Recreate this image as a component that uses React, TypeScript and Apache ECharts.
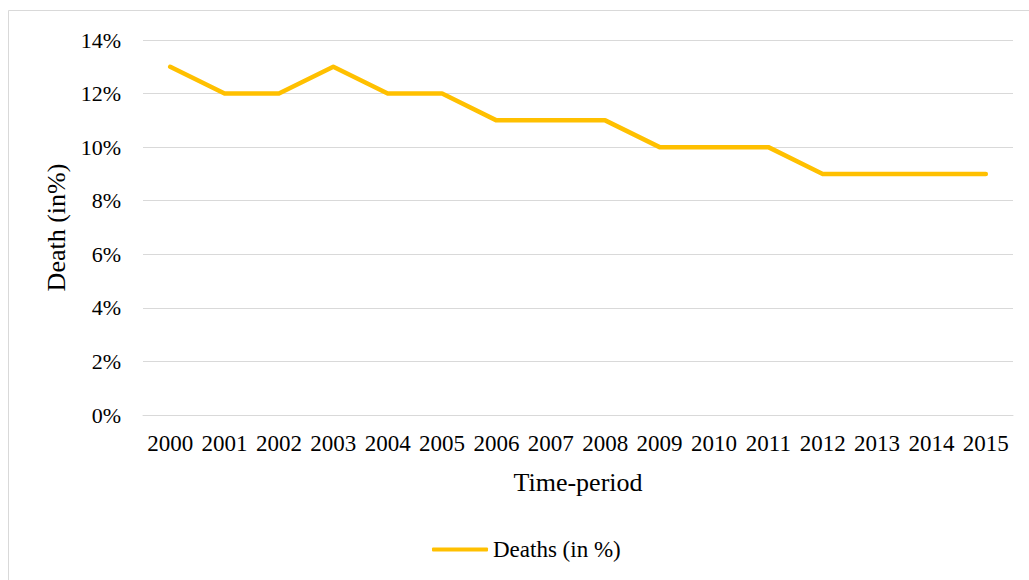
import React, { useEffect, useRef } from "react";
import * as echarts from "echarts";

const years = ["2000","2001","2002","2003","2004","2005","2006","2007","2008","2009","2010","2011","2012","2013","2014","2015"];
const deaths = [13, 12, 12, 13, 12, 12, 11, 11, 11, 10, 10, 10, 9, 9, 9, 9];
const seriesName = "Deaths (in %)";
const FONT = "'Liberation Serif', 'Times New Roman', serif";

export default function App() {
  const ref = useRef<HTMLDivElement>(null);
  useEffect(() => {
    const chart = echarts.init(ref.current!, null, { renderer: "svg" });
    chart.setOption({
      animation: false,
      backgroundColor: "#ffffff",
      graphic: [
        {
          type: "rect",
          shape: { x: 8.5, y: 10.5, width: 1040, height: 600 },
          style: { fill: "none", stroke: "#d9d9d9", lineWidth: 1 },
          silent: true,
        },
      ],
      grid: { left: 143, right: 16, top: 40, bottom: 165 },
      legend: {
        bottom: 14,
        left: 427,
        itemWidth: 56,
        itemHeight: 4,
        itemGap: 10,
        textStyle: { fontFamily: FONT, fontSize: 23, color: "#000" },
        data: [{ name: seriesName, icon: "roundRect" }],
      },
      xAxis: {
        type: "category",
        data: years,
        boundaryGap: true,
        name: "Time-period",
        nameLocation: "middle",
        nameGap: 54,
        nameTextStyle: { fontFamily: FONT, fontSize: 26, color: "#000" },
        axisLine: { show: true, lineStyle: { color: "#d9d9d9", width: 1 } },
        axisTick: { show: false },
        axisLabel: { fontFamily: FONT, fontSize: 23, color: "#000", margin: 17, interval: 0 },
        splitLine: { show: false },
      },
      yAxis: {
        type: "value",
        min: 0,
        max: 14,
        interval: 2,
        name: "Death (in%)",
        nameLocation: "middle",
        nameGap: 70,
        nameTextStyle: { fontFamily: FONT, fontSize: 26, color: "#000" },
        axisLine: { show: false },
        axisTick: { show: false },
        axisLabel: { fontFamily: FONT, fontSize: 22, color: "#000", margin: 22, formatter: "{value}%" },
        splitLine: { show: true, lineStyle: { color: "#d9d9d9", width: 1 } },
      },
      series: [
        {
          name: seriesName,
          type: "line",
          data: deaths,
          symbol: "none",
          lineStyle: { color: "#FFC000", width: 4.5, cap: "round", join: "round" },
          itemStyle: { color: "#FFC000" },
        },
      ],
    });
    return () => chart.dispose();
  }, []);
  return (
    <div
      ref={ref}
      style={{ position: "absolute", left: 0, top: 0, width: 1029, height: 580 }}
    />
  );
}
